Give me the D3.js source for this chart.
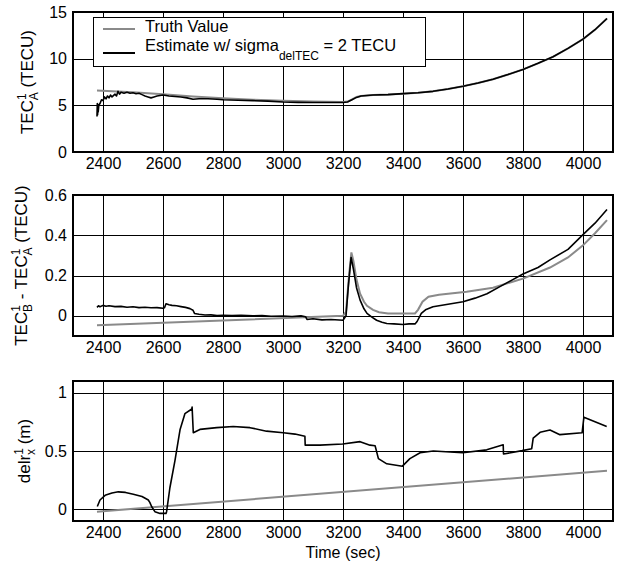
<!DOCTYPE html>
<html>
<head>
<meta charset="utf-8">
<script src="https://cdn.jsdelivr.net/npm/d3@7"></script>
<style>
body{margin:0;background:#fff}
svg{font-family:"Liberation Sans",Arial,Helvetica,sans-serif}
</style>
</head>
<body>
<svg id="chart" width="626" height="566"></svg>
<script>
// tick values
const xTicks = [2400, 2600, 2800, 3000, 3200, 3400, 3600, 3800, 4000];
const tecTicks = [0, 5, 10, 15];
const diffTicks = [0, 0.2, 0.4, 0.6];
const delrTicks = [0, 0.5, 1];

// panel 1: TEC A
const tecTruthT = [2380, 2500, 2600, 2700, 2800, 2900, 3000, 3100, 3200, 3215, 3230, 3245, 3260, 3300, 3350, 3400, 3450, 3500, 3550, 3600, 3650, 3700, 3750, 3800, 3850, 3900, 3950, 4000, 4040, 4080];
const tecTruthV = [6.6, 6.4, 6.2, 5.95, 5.75, 5.6, 5.5, 5.4, 5.35, 5.4, 5.65, 5.9, 6.0, 6.1, 6.15, 6.25, 6.35, 6.5, 6.75, 7.05, 7.4, 7.8, 8.3, 8.85, 9.5, 10.2, 11.1, 12.1, 13.1, 14.3];
const tecEstT = [2380, 2381, 2382, 2383, 2384, 2386, 2390, 2395, 2400, 2405, 2410, 2415, 2420, 2425, 2430, 2440, 2445, 2450, 2455, 2460, 2470, 2480, 2490, 2500, 2510, 2520, 2530, 2540, 2550, 2560, 2570, 2580, 2590, 2600, 2610, 2620, 2640, 2660, 2680, 2700, 2720, 2750, 2780, 2800, 2850, 2900, 2950, 3000, 3050, 3100, 3150, 3200, 3215, 3230, 3245, 3260, 3300, 3350, 3400, 3450, 3500, 3550, 3600, 3650, 3700, 3750, 3800, 3850, 3900, 3950, 4000, 4040, 4080];
const tecEstV = [3.8, 5.2, 4.0, 5.1, 4.3, 5.0, 5.2, 5.6, 5.5, 5.9, 5.7, 6.0, 5.8, 6.1, 5.9, 6.2, 6.0, 6.5, 6.2, 6.4, 6.3, 6.4, 6.3, 6.35, 6.25, 6.3, 6.15, 6.0, 5.9, 5.8, 5.9, 6.0, 6.05, 6.1, 6.05, 6.0, 5.95, 5.9, 5.8, 5.65, 5.7, 5.7, 5.65, 5.6, 5.55, 5.5, 5.45, 5.35, 5.32, 5.3, 5.3, 5.3, 5.35, 5.6, 5.85, 6.0, 6.1, 6.15, 6.25, 6.35, 6.5, 6.75, 7.05, 7.4, 7.8, 8.3, 8.85, 9.5, 10.2, 11.1, 12.1, 13.1, 14.3];

// panel 2: TEC B - TEC A
const diffTruthT = [2380, 3200, 3210, 3220, 3228, 3235, 3245, 3257, 3270, 3280, 3300, 3320, 3350, 3440, 3450, 3465, 3485, 3520, 3612, 3700, 3800, 3890, 3950, 4000, 4040, 4080];
const diffTruthV = [-0.047, 0.0, 0.02, 0.2, 0.315, 0.27, 0.18, 0.11, 0.07, 0.05, 0.03, 0.018, 0.012, 0.012, 0.03, 0.07, 0.095, 0.105, 0.12, 0.14, 0.185, 0.24, 0.29, 0.35, 0.41, 0.475];
const diffEstT = [2380, 2385, 2390, 2400, 2410, 2420, 2440, 2460, 2480, 2500, 2520, 2540, 2560, 2580, 2600, 2605, 2610, 2620, 2630, 2645, 2660, 2675, 2690, 2700, 2705, 2720, 2740, 2760, 2780, 2800, 2830, 2860, 2900, 2930, 2960, 3000, 3030, 3060, 3075, 3080, 3100, 3130, 3160, 3200, 3210, 3218, 3227, 3235, 3245, 3257, 3270, 3280, 3295, 3312, 3330, 3346, 3370, 3400, 3420, 3440, 3447, 3461, 3475, 3500, 3550, 3600, 3640, 3680, 3723, 3760, 3800, 3850, 3890, 3950, 4000, 4040, 4080];
const diffEstV = [0.042, 0.05, 0.045, 0.052, 0.048, 0.05, 0.046, 0.047, 0.043, 0.045, 0.041, 0.043, 0.04, 0.041, 0.038, 0.04, 0.06, 0.055, 0.052, 0.05, 0.046, 0.042, 0.036, 0.028, 0.012, 0.008, 0.004, 0.005, 0.002, 0.003, 0.001, 0.003, 0.0, 0.002, -0.002, -0.001, -0.003, 0.0, -0.004, -0.018, -0.014, -0.02, -0.018, -0.022, 0.0, 0.15, 0.29, 0.23, 0.14, 0.078, 0.035, 0.012, -0.005, -0.022, -0.032, -0.038, -0.04, -0.043, -0.04, -0.04, -0.028, 0.012, 0.03, 0.045, 0.058, 0.07, 0.088, 0.11, 0.145, 0.175, 0.208, 0.24, 0.278, 0.33, 0.403, 0.46, 0.528];

// panel 3: delr x
const delrTruthT = [2380, 4080];
const delrTruthV = [-0.02, 0.33];
const delrEstT = [2381, 2390, 2407, 2430, 2451, 2475, 2501, 2530, 2551, 2556, 2562, 2573, 2590, 2610, 2612, 2623, 2640, 2657, 2673, 2696, 2697, 2701, 2723, 2779, 2834, 2890, 2945, 3001, 3040, 3073, 3074, 3123, 3199, 3257, 3290, 3307, 3318, 3346, 3398, 3423, 3457, 3501, 3599, 3679, 3734, 3735, 3797, 3829, 3834, 3857, 3890, 3923, 3997, 4003, 4079];
const delrEstV = [0.024, 0.08, 0.12, 0.14, 0.15, 0.145, 0.13, 0.11, 0.08, 0.06, 0.024, -0.02, -0.035, -0.035, -0.02, 0.185, 0.42, 0.685, 0.82, 0.86, 0.876, 0.656, 0.685, 0.7, 0.71, 0.7, 0.67, 0.656, 0.645, 0.626, 0.55, 0.55, 0.56, 0.58, 0.55, 0.545, 0.435, 0.39, 0.37, 0.435, 0.485, 0.5, 0.485, 0.51, 0.553, 0.474, 0.503, 0.52, 0.61, 0.66, 0.68, 0.64, 0.656, 0.79, 0.71];

const zip = (t, v) => t.map((d, i) => [d, v[i]]);

const svg = d3.select('#chart');
svg.append('rect').attr('width', 626).attr('height', 566).attr('fill', '#fff');

const x = d3.scaleLinear().domain([2300, 4100]).range([73, 613]);
const grey = '#8a8a8a';

function panel(cfg){
    const y = d3.scaleLinear().domain(cfg.domain).range([cfg.bottom, cfg.top]);
    const g = svg.append('g');
    const h = cfg.bottom - cfg.top;

    const xa = g.append('g')
        .attr('transform', `translate(0,${cfg.bottom})`)
        .call(d3.axisBottom(x).tickValues(xTicks).tickSize(-h).tickPadding(6).tickFormat(d3.format('d')));
    const ya = g.append('g')
        .attr('transform', `translate(${x.range()[0]},0)`)
        .call(d3.axisLeft(y).tickValues(cfg.ticks).tickSize(-(x.range()[1] - x.range()[0])).tickPadding(6).tickFormat(cfg.fmt));
    [xa, ya].forEach(a=>{
        a.select('.domain').remove();
        a.selectAll('line').attr('stroke', '#000').attr('stroke-width', 1).attr('shape-rendering', 'crispEdges');
        a.selectAll('text').attr('fill', '#000').style('font-size', '16px').style('font-family', '"Liberation Sans",Arial,sans-serif');
    });

    const line = d3.line().x(d=>x(d[0])).y(d=>y(d[1]));
    g.append('path').datum(cfg.truth).attr('d', line)
        .attr('fill', 'none').attr('stroke', grey).attr('stroke-width', 2);
    g.append('path').datum(cfg.est).attr('d', line)
        .attr('fill', 'none').attr('stroke', '#000').attr('stroke-width', 1.6).attr('stroke-linejoin', 'round');

    g.append('rect')
        .attr('x', x.range()[0]).attr('y', cfg.top)
        .attr('width', x.range()[1] - x.range()[0]).attr('height', h)
        .attr('fill', 'none').attr('stroke', '#000').attr('stroke-width', 2)
        .attr('shape-rendering', 'crispEdges');

    // y label with super/subscripts
    const t = g.append('text')
        .attr('transform', `translate(${cfg.labelX},${(cfg.top + cfg.bottom) / 2}) rotate(-90)`)
        .attr('text-anchor', 'middle')
        .style('font-size', '17px');
    cfg.label.forEach(p=>{
        const s = t.append('tspan').text(p.s);
        if(p.sup){ s.style('font-size', '12px').attr('dy', -7); }
        if(p.sub){ s.style('font-size', '12px').attr('dx', p.dx || 0).attr('dy', p.dy); }
        if(p.back){ s.attr('dy', p.back); }
    });
    return {g, y};
}

const fmtNum = d => d === 0 ? '0' : String(d);

const p1 = panel({
    top: 12, bottom: 152, domain: [0, 15], ticks: tecTicks, fmt: fmtNum,
    truth: zip(tecTruthT, tecTruthV), est: zip(tecEstT, tecEstV),
    labelX: 33,
    label: [{s: 'TEC'}, {s: '1', sup: true}, {s: 'A', sub: true, dx: -7, dy: 12}, {s: ' (TECU)', back: -5}]
});

panel({
    top: 195, bottom: 336, domain: [-0.1, 0.6], ticks: diffTicks, fmt: fmtNum,
    truth: zip(diffTruthT, diffTruthV), est: zip(diffEstT, diffEstV),
    labelX: 27,
    label: [{s: 'TEC'}, {s: '1', sup: true}, {s: 'B', sub: true, dx: -7, dy: 12}, {s: ' - TEC', back: -5},
            {s: '1', sup: true}, {s: 'A', sub: true, dx: -7, dy: 12}, {s: ' (TECU)', back: -5}]
});

panel({
    top: 381, bottom: 521, domain: [-0.1, 1.1], ticks: delrTicks, fmt: fmtNum,
    truth: zip(delrTruthT, delrTruthV), est: zip(delrEstT, delrEstV),
    labelX: 30,
    label: [{s: 'delr'}, {s: '1', sup: true}, {s: 'x', sub: true, dx: -7, dy: 12}, {s: ' (m)', back: -5}]
});

svg.append('text')
    .attr('x', 343).attr('y', 558)
    .attr('text-anchor', 'middle')
    .style('font-size', '16px')
    .text('Time (sec)');

// legend
const lg = p1.g.append('g');
lg.append('rect').attr('x', 93).attr('y', 17).attr('width', 332).attr('height', 49)
    .attr('fill', '#fff').attr('stroke', '#000').attr('stroke-width', 1).attr('shape-rendering', 'crispEdges');
lg.append('line').attr('x1', 103).attr('x2', 135).attr('y1', 29).attr('y2', 29)
    .attr('stroke', grey).attr('stroke-width', 2);
lg.append('line').attr('x1', 103).attr('x2', 135).attr('y1', 53).attr('y2', 53)
    .attr('stroke', '#000').attr('stroke-width', 2);
lg.append('text').attr('x', 145).attr('y', 32).style('font-size', '16.5px').text('Truth Value');
const et = lg.append('text').attr('x', 145).attr('y', 51).style('font-size', '16.5px');
et.append('tspan').text('Estimate w/ sigma');
et.append('tspan').text('delTEC').style('font-size', '12px').attr('dy', 9);
et.append('tspan').text(' = 2 TECU').attr('dy', -9);
</script>
</body>
</html>
